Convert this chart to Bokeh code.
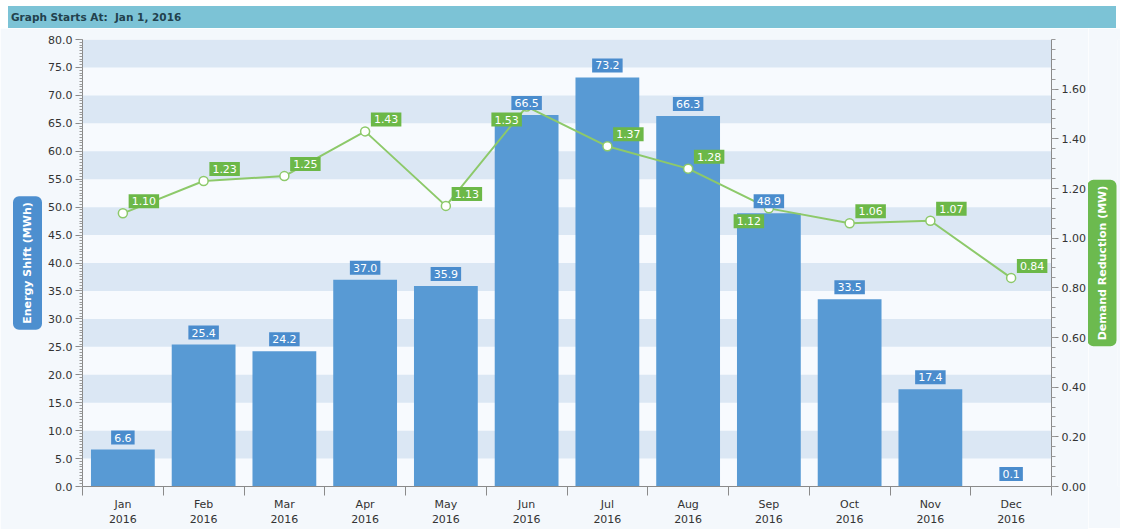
import math
from bokeh.plotting import figure
from bokeh.models import (ColumnDataSource, LinearAxis, Range1d, FixedTicker, Title, Plot,
                          SingleIntervalTicker, NumeralTickFormatter, Div)
from bokeh.layouts import column, row
from bokeh.core.properties import value
from bokeh.embed import file_html
from bokeh.resources import INLINE

# ---- data ----
months = ["Jan", "Feb", "Mar", "Apr", "May", "Jun", "Jul", "Aug", "Sep", "Oct", "Nov", "Dec"]
year = "2016"
energy_shift = [6.6, 25.4, 24.2, 37.0, 35.9, 66.5, 73.2, 66.3, 48.9, 33.5, 17.4, 0.1]
demand_reduction = [1.10, 1.23, 1.25, 1.43, 1.13, 1.53, 1.37, 1.28, 1.12, 1.06, 1.07, 0.84]
energy_labels = ["%.1f" % v for v in energy_shift]
demand_labels = ["%.2f" % v for v in demand_reduction]
left_ticks_interval = 5
right_ticks = [0.0, 0.2, 0.4, 0.6, 0.8, 1.0, 1.2, 1.4, 1.6]
header_text = "Graph Starts At:&nbsp;&nbsp;Jan 1, 2016"
left_title = "Energy Shift (MWh)"
right_title = "Demand Reduction (MW)"

# label placement: 'ur' = upper right of point, 'll' = lower left
placement = ["ur", "ur", "ur", "ur", "ur", "ll", "ur", "ur", "ll", "ur", "ur", "ur"]

FONT = "DejaVu Sans"
BAR = "#589ad4"
BAR_LBL = "#4a8ccd"
GREEN = "#8dc96a"
GREEN_LBL = "#6cb848"
BLUE_TITLE = "#4d8fcf"
GREEN_TITLE = "#6cba4f"
BORDER_BG = "#f4f8fc"
TITLE_PAD = dict(left=6, right=6, top=8, bottom=8)

xpos = [i + 0.5 for i in range(len(months))]
src = ColumnDataSource(dict(
    x=xpos, es=energy_shift, dr=demand_reduction,
    es_lbl=energy_labels, dr_lbl=demand_labels,
    dx=[21 if p == "ur" else -20 for p in placement],
    dy=[-12 if p == "ur" else 13 for p in placement],
))

p = figure(frame_width=969, frame_height=447, output_backend="svg", toolbar_location=None,
           x_range=Range1d(0, len(months)), y_range=Range1d(0, 80),
           min_border_left=82, min_border_right=36, min_border_top=11, min_border_bottom=36,
           background_fill_color="#f7fafe", border_fill_color=BORDER_BG, outline_line_color=None)
p.margin = (0, 0, 0, 0)
p.extra_y_ranges = {"dr": Range1d(0, 1.8)}

# grid bands
p.xgrid.visible = False
p.ygrid.ticker = SingleIntervalTicker(interval=left_ticks_interval, num_minor_ticks=10)
p.ygrid.grid_line_color = None
p.ygrid.band_fill_color = "#dbe7f4"
p.ygrid.band_fill_alpha = 1.0

# bottom axis
xa = p.xaxis[0]
xa.ticker = FixedTicker(ticks=xpos, minor_ticks=list(range(len(months) + 1)))
xa.major_label_overrides = {x: "%s\n%s" % (m, year) for x, m in zip(xpos, months)}
xa.major_tick_out = 0
xa.major_tick_in = 0
xa.minor_tick_out = 9
xa.minor_tick_in = 0
xa.axis_line_color = "#8a8a8a"
xa.minor_tick_line_color = "#8a8a8a"
xa.major_label_text_font = FONT
xa.major_label_text_font_size = "11px"
xa.major_label_text_color = "#333333"
xa.major_label_standoff = 2

# left axis
ya = p.yaxis[0]
ya.ticker = SingleIntervalTicker(interval=left_ticks_interval, num_minor_ticks=10)
ya.formatter = NumeralTickFormatter(format="0.0")
ya.major_tick_out = 7
ya.major_tick_in = 0
ya.minor_tick_out = 3
ya.minor_tick_in = 0
ya.axis_line_color = "#8a8a8a"
ya.major_tick_line_color = "#8a8a8a"
ya.minor_tick_line_color = "#9a9a9a"
ya.major_label_text_font = FONT
ya.major_label_text_font_size = "11px"
ya.major_label_text_color = "#333333"
ya.major_label_standoff = 3

# right axis
minor_right = [round(i * 0.04, 2) for i in range(46)]
ra = LinearAxis(y_range_name="dr", ticker=FixedTicker(ticks=right_ticks, minor_ticks=minor_right),
                formatter=NumeralTickFormatter(format="0.00"))
ra.major_tick_out = 7
ra.major_tick_in = 0
ra.minor_tick_out = 4
ra.minor_tick_in = 0
ra.axis_line_color = "#8a8a8a"
ra.major_tick_line_color = "#8a8a8a"
ra.minor_tick_line_color = "#9a9a9a"
ra.major_label_text_font = FONT
ra.major_label_text_font_size = "11px"
ra.major_label_text_color = "#333333"
ra.major_label_standoff = 3
p.add_layout(ra, "right")

# left axis title in rounded box
p.add_layout(Title(text=left_title, align="center", text_font=FONT, text_font_size="11px",
                   text_font_style="bold", text_color="white", background_fill_color=BLUE_TITLE,
                   padding=TITLE_PAD, border_radius=6, standoff=7), "left")

# bars
p.vbar(x="x", top="es", width=0.79, bottom=0, source=src, fill_color=BAR, line_color=None)

# line
p.line(x="x", y="dr", source=src, y_range_name="dr", line_color=GREEN, line_width=2)
p.scatter(x="x", y="dr", source=src, y_range_name="dr", size=9,
          fill_color="white", line_color=GREEN, line_width=1.5)

# value labels
p.text(x="x", y="es", text="es_lbl", source=src, y_offset=-12,
       text_align="center", text_baseline="middle", text_color="white",
       text_font=value(FONT), text_font_size="11px",
       background_fill_color=BAR_LBL, padding=3)
p.text(x="x", y="dr", text="dr_lbl", source=src, y_range_name="dr",
       x_offset="dx", y_offset="dy",
       text_align="center", text_baseline="middle", text_color="white",
       text_font=value(FONT), text_font_size="11px",
       background_fill_color=GREEN_LBL, padding=3)

# right axis title: a narrow companion plot whose left-side title reads bottom-to-top
side = Plot(x_range=Range1d(0, 1), y_range=Range1d(0, 1), width=32, frame_height=447,
            min_border_left=0, min_border_right=0, min_border_top=11, min_border_bottom=42,
            toolbar_location=None, output_backend="svg", outline_line_color=None,
            background_fill_color=BORDER_BG, border_fill_color=BORDER_BG)
side.margin = (0, 0, 0, 0)
side.add_layout(Title(text=right_title, align="center", text_font=FONT, text_font_size="11px",
                      text_font_style="bold", text_color="white", background_fill_color=GREEN_TITLE,
                      padding=TITLE_PAD, border_radius=6, standoff=2), "left")

header = Div(text=header_text, width=1108, height=22, margin=(6, 8, 0, 8),
             styles={"background-color": "#7cc3d6", "color": "#22414d",
                     "font-family": "DejaVu Sans", "font-size": "10.5px", "font-weight": "bold",
                     "line-height": "22px", "padding-left": "3px", "box-sizing": "border-box",
                     "width": "1108px", "height": "22px"})

layout = column(header, row(p, side, spacing=0), spacing=0)
open("out.html", "w").write(file_html(layout, INLINE))
